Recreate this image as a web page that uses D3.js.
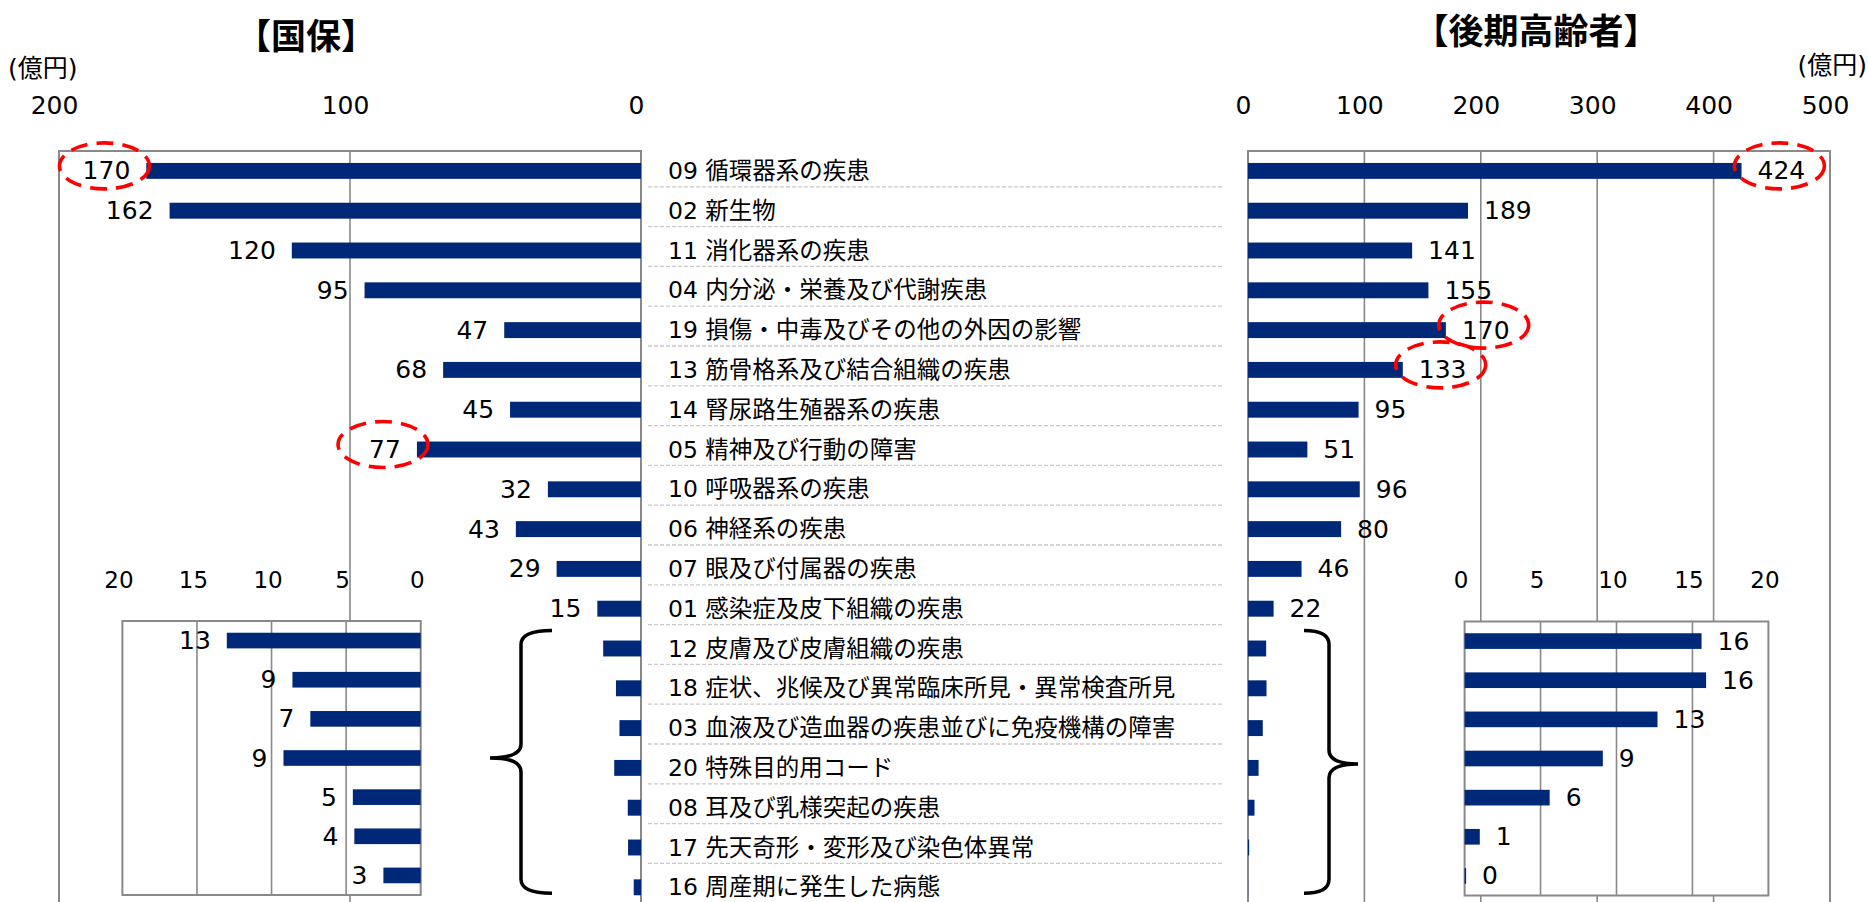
<!DOCTYPE html>
<html lang="ja">
<head>
<meta charset="utf-8">
<script src="https://cdn.jsdelivr.net/npm/d3@7"></script>
<style>
  html, body { margin: 0; padding: 0; background: #fff; }
  svg { display: block; }
  text { font-family: 'DejaVu Sans', 'Noto Sans CJK JP', sans-serif; fill: #000; }
</style>
</head>
<body>
<svg id="chart" width="1868" height="902"></svg>
<script>
// ---------------- data ----------------
const categories = [
  "09 循環器系の疾患",
  "02 新生物",
  "11 消化器系の疾患",
  "04 内分泌・栄養及び代謝疾患",
  "19 損傷・中毒及びその他の外因の影響",
  "13 筋骨格系及び結合組織の疾患",
  "14 腎尿路生殖器系の疾患",
  "05 精神及び行動の障害",
  "10 呼吸器系の疾患",
  "06 神経系の疾患",
  "07 眼及び付属器の疾患",
  "01 感染症及皮下組織の疾患",
  "12 皮膚及び皮膚組織の疾患",
  "18 症状、兆候及び異常臨床所見・異常検査所見",
  "03 血液及び造血器の疾患並びに免疫機構の障害",
  "20 特殊目的用コード",
  "08 耳及び乳様突起の疾患",
  "17 先天奇形・変形及び染色体異常",
  "16 周産期に発生した病態"
];
// 国保 (億円)
const kokuhoValues = [170, 162, 120, 95, 47, 68, 45, 77, 32, 43, 29, 15, 13.0, 8.6, 7.4, 9.2, 4.55, 4.45, 2.5];
// 後期高齢者 (億円)
const kokiValues = [424, 189, 141, 155, 170, 133, 95, 51, 96, 80, 46, 22, 15.6, 15.9, 12.7, 9.1, 5.6, 1.0, 0.1];

const titleKokuho = "【国保】";
const titleKoki = "【後期高齢者】";
const unitLabel = "(億円)";

const kokuhoTicks = [200, 100, 0];
const kokiTicks = [0, 100, 200, 300, 400, 500];
const insetTicks = [20, 15, 10, 5, 0];

const labeledCount = 12;                 // rows labelled in main panels
const insetCategories = categories.slice(12);

const kokuhoHighlight = ["09 循環器系の疾患", "05 精神及び行動の障害"];
const kokiHighlight = ["09 循環器系の疾患", "19 損傷・中毒及びその他の外因の影響", "13 筋骨格系及び結合組織の疾患"];

// ---------------- setup ----------------
const svg = d3.select("#chart");
const BAR = "#002878";
const GRID = "#898989";
const fmt = d3.format(".0f");

const kokuhoData = categories.map((c, i) => ({ cat: c, v: kokuhoValues[i], i }));
const kokiData = categories.map((c, i) => ({ cat: c, v: kokiValues[i], i }));

// scales
const yTop = 151, step = 39.8;
const y = d3.scaleBand().domain(categories)
  .range([yTop, yTop + step * categories.length]).paddingInner(0.6).paddingOuter(0.3);
const xL = d3.scaleLinear().domain([0, 200]).range([641, 59]);
const xR = d3.scaleLinear().domain([0, 500]).range([1248, 1830]);

const yInsL = d3.scaleBand().domain(insetCategories).range([621, 895]).paddingInner(0.6).paddingOuter(0.3);
const yInsR = d3.scaleBand().domain(insetCategories).range([621.5, 895.5]).paddingInner(0.6).paddingOuter(0.3);
const xInsL = d3.scaleLinear().domain([0, 20]).range([420.7, 122.4]);
const xInsR = d3.scaleLinear().domain([0, 20]).range([1464.6, 1768.4]);

const cy = c => y(c) + y.bandwidth() / 2;

// ---------------- titles ----------------
svg.append("text").attr("x", 306).attr("y", 33).attr("text-anchor", "middle")
  .attr("dominant-baseline", "central")
  .style("font-family", "'Noto Sans CJK JP', sans-serif").style("font-weight", 700)
  .style("font-size", "35px").text(titleKokuho);
svg.append("text").attr("x", 1536).attr("y", 28).attr("text-anchor", "middle")
  .attr("dominant-baseline", "central")
  .style("font-family", "'Noto Sans CJK JP', sans-serif").style("font-weight", 700)
  .style("font-size", "35px").text(titleKoki);

svg.append("text").attr("x", 8).attr("y", 68).attr("dominant-baseline", "central")
  .style("font-size", "25px").text(unitLabel);
svg.append("text").attr("x", 1867).attr("y", 65).attr("text-anchor", "end").attr("dominant-baseline", "central")
  .style("font-size", "25px").text(unitLabel);

// ---------------- axis tick labels ----------------
function tickAxis(scale, ticks, ty, size, dx) {
  const g = svg.append("g").attr("transform", `translate(0,${ty})`)
    .call(d3.axisTop(scale).tickValues(ticks).tickSize(0).tickPadding(0));
  g.select(".domain").remove();
  g.selectAll("text").attr("y", 0).attr("dy", "0.35em").attr("dx", dx)
    .attr("fill", "#000").style("font-size", size + "px")
    .style("font-family", "'DejaVu Sans', sans-serif");
  return g;
}
tickAxis(xL, kokuhoTicks, 105, 25, -5);
tickAxis(xR, kokiTicks, 105, 25, -5);

// ---------------- main panels: frames + grid ----------------
function mainFrame(x, ticks) {
  const [x0, x1] = d3.extent(x.range());
  const y0 = y.range()[0], y1 = y.range()[1];
  svg.append("g").selectAll("line").data(ticks.filter(t => t !== x.domain()[0] && t !== x.domain()[1]))
    .join("line").attr("x1", d => x(d)).attr("x2", d => x(d)).attr("y1", y0).attr("y2", y1)
    .attr("stroke", GRID).attr("stroke-width", 1.6);
  svg.append("rect").attr("x", x0).attr("y", y0).attr("width", x1 - x0).attr("height", y1 - y0)
    .attr("fill", "none").attr("stroke", GRID).attr("stroke-width", 2);
}
mainFrame(xL, kokuhoTicks);
mainFrame(xR, kokiTicks);

// dashed separators between category labels
svg.append("g").selectAll("line").data(categories.slice(0, -1))
  .join("line")
  .attr("x1", 648).attr("x2", 1222)
  .attr("y1", d => cy(d) + step / 2 - 4)
  .attr("y2", d => cy(d) + step / 2 - 4)
  .attr("stroke", "#c9c9c9").attr("stroke-width", 1.3).attr("stroke-dasharray", "4 2");

// category labels
svg.append("g").selectAll("text").data(categories).join("text")
  .attr("x", 668).attr("y", d => cy(d)).attr("dominant-baseline", "central")
  .style("font-size", "23.5px").text(d => d);

// main bars
svg.append("g").selectAll("rect").data(kokuhoData).join("rect")
  .attr("x", d => xL(d.v)).attr("y", d => y(d.cat))
  .attr("width", d => xL(0) - xL(d.v)).attr("height", y.bandwidth()).attr("fill", BAR);
svg.append("g").selectAll("rect").data(kokiData).join("rect")
  .attr("x", xR(0)).attr("y", d => y(d.cat))
  .attr("width", d => xR(d.v) - xR(0)).attr("height", y.bandwidth()).attr("fill", BAR);

// main labels
const GAP = 16;
const lblL = svg.append("g").selectAll("text").data(kokuhoData.slice(0, labeledCount)).join("text")
  .attr("x", d => xL(d.v) - GAP).attr("y", d => cy(d.cat)).attr("text-anchor", "end")
  .attr("dominant-baseline", "central").style("font-size", "25px")
  .style("font-family", "'DejaVu Sans', sans-serif").text(d => fmt(d.v));
const lblR = svg.append("g").selectAll("text").data(kokiData.slice(0, labeledCount)).join("text")
  .attr("x", d => xR(d.v) + GAP).attr("y", d => cy(d.cat)).attr("text-anchor", "start")
  .attr("dominant-baseline", "central").style("font-size", "25px")
  .style("font-family", "'DejaVu Sans', sans-serif").text(d => fmt(d.v));

// ---------------- insets ----------------
function inset(x, yb, data, side) {
  const [x0, x1] = d3.extent(x.range());
  const [y0, y1] = yb.range();
  svg.append("rect").attr("x", x0).attr("y", y0).attr("width", x1 - x0).attr("height", y1 - y0)
    .attr("fill", "#fff");
  svg.append("g").selectAll("line").data(insetTicks.filter(t => t !== 0 && t !== 20))
    .join("line").attr("x1", d => x(d)).attr("x2", d => x(d)).attr("y1", y0).attr("y2", y1)
    .attr("stroke", GRID).attr("stroke-width", 1.6);
  svg.append("rect").attr("x", x0).attr("y", y0).attr("width", x1 - x0).attr("height", y1 - y0)
    .attr("fill", "none").attr("stroke", GRID).attr("stroke-width", 2);
  const g = svg.append("g");
  g.selectAll("rect").data(data).join("rect")
    .attr("x", d => Math.min(x(0), x(d.v))).attr("y", d => yb(d.cat))
    .attr("width", d => Math.abs(x(d.v) - x(0))).attr("height", yb.bandwidth()).attr("fill", BAR);
  g.selectAll("text").data(data).join("text")
    .attr("x", d => side === "left" ? x(d.v) - GAP : x(d.v) + GAP)
    .attr("y", d => yb(d.cat) + yb.bandwidth() / 2)
    .attr("text-anchor", side === "left" ? "end" : "start")
    .attr("dominant-baseline", "central").style("font-size", "25px")
    .style("font-family", "'DejaVu Sans', sans-serif").text(d => fmt(d.v));
  tickAxis(x, insetTicks, 580, 23, -4);
}
inset(xInsL, yInsL, kokuhoData.slice(12), "left");
inset(xInsR, yInsR, kokiData.slice(12), "right");

// ---------------- braces ----------------
function brace(xEnd, xMid, xTip, top, tip, bottom) {
  const r = 14;
  const p = d3.path();
  p.moveTo(xEnd, top);
  p.quadraticCurveTo(xMid, top, xMid, top + r);
  p.lineTo(xMid, tip - r);
  p.quadraticCurveTo(xMid, tip, xTip, tip);
  p.quadraticCurveTo(xMid, tip, xMid, tip + r);
  p.lineTo(xMid, bottom - r);
  p.quadraticCurveTo(xMid, bottom, xEnd, bottom);
  svg.append("path").attr("d", p.toString()).attr("fill", "none")
    .attr("stroke", "#000").attr("stroke-width", 3.5);
}
const yi0 = y(insetCategories[0]) - 10;
const yi1 = cy(insetCategories[insetCategories.length - 1]) + 6;
brace(552, 521, 490, yi0, (yi0 + yi1) / 2 - 4, yi1);
brace(1304, 1329, 1358, yi0, (yi0 + yi1) / 2 + 2, yi1);

// ---------------- red dashed highlight ellipses ----------------
function highlight(sel, cats) {
  sel.filter(d => cats.includes(d.cat)).each(function (d) {
    const b = this.getBBox();
    svg.append("ellipse")
      .attr("cx", b.x + b.width / 2 - 2).attr("cy", cy(d.cat) - 5)
      .attr("rx", 45).attr("ry", 23)
      .attr("fill", "none").attr("stroke", "#ff0000").attr("stroke-width", 3.6)
      .attr("stroke-dasharray", "17 9");
  });
}
highlight(lblL, kokuhoHighlight);
highlight(lblR, kokiHighlight);
</script>
</body>
</html>
